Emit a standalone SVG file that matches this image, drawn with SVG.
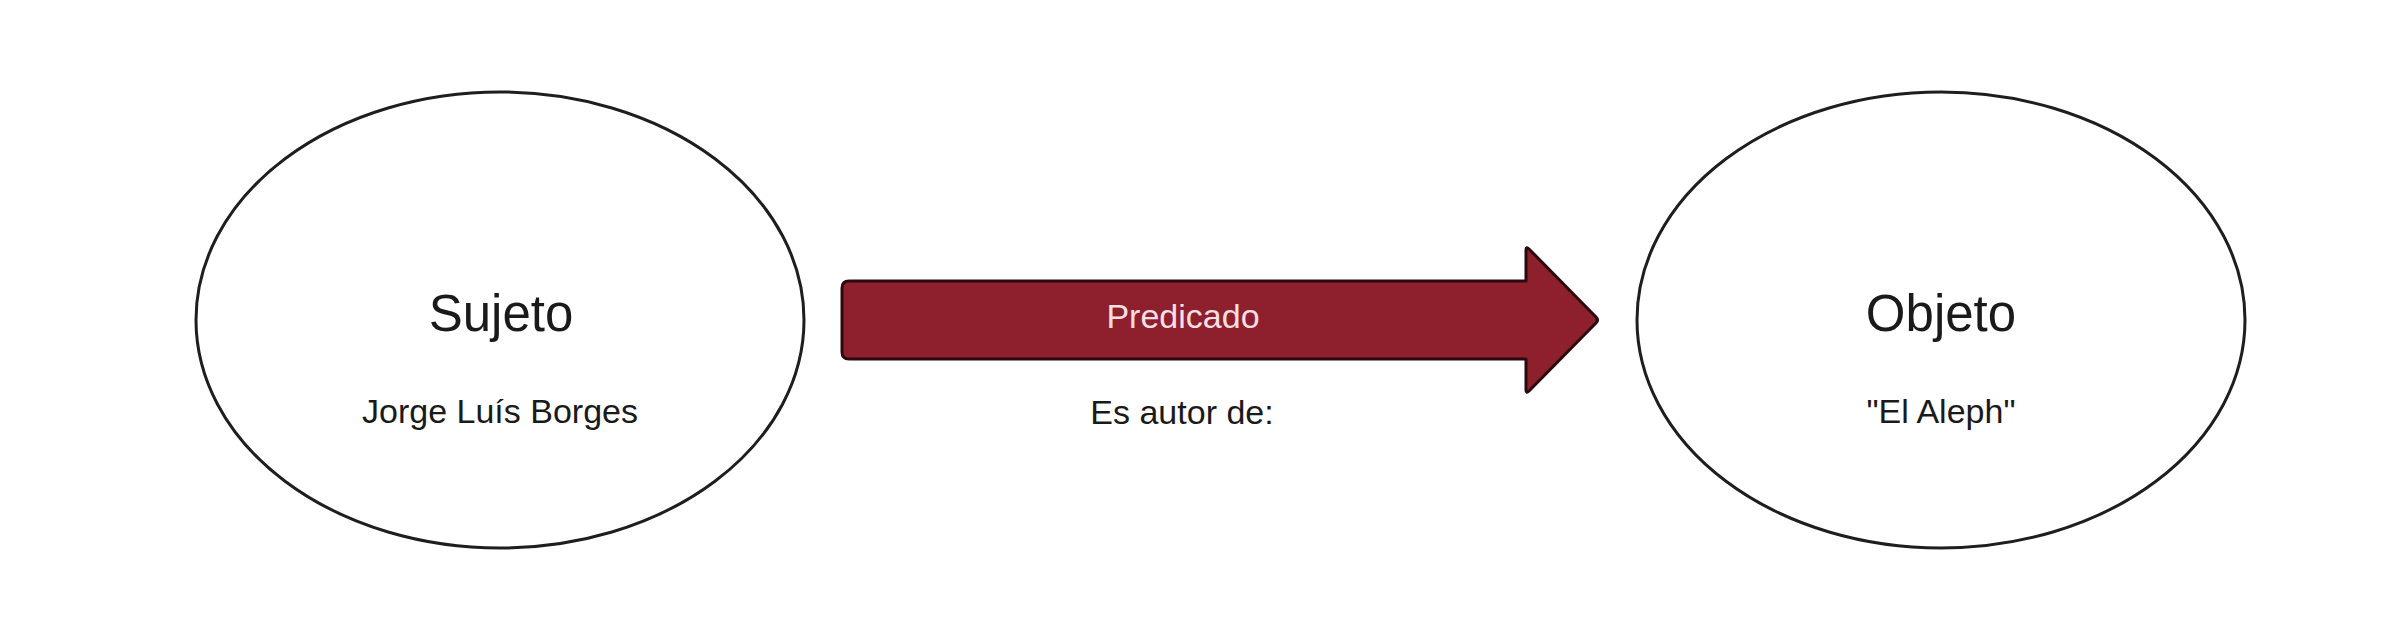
<svg xmlns="http://www.w3.org/2000/svg" width="2398" height="644" viewBox="0 0 2398 644">
<style>
.node{fill:#ffffff;stroke:#1e1e1e;stroke-width:3}
.t{font-family:"Liberation Sans",Arial,sans-serif;fill:#1a1a1a;text-anchor:middle}
.big{font-size:51px}
.small{font-size:34px}
.arrow{fill:#8e1f2d;stroke:#2a0a0e;stroke-width:3;stroke-linejoin:round}
.lbl{font-family:"Liberation Sans",Arial,sans-serif;font-size:34px;fill:#f7dfe3;text-anchor:middle}
</style>
<rect width="2398" height="644" fill="#ffffff"/>
<g id="sujeto">
<ellipse class="node" cx="500" cy="320" rx="304" ry="228"/>
<text class="t big" x="501" y="331">Sujeto</text>
<text class="t small" x="500" y="423">Jorge Luís Borges</text>
</g>
<g id="objeto">
<ellipse class="node" cx="1941" cy="320" rx="304" ry="228"/>
<text class="t big" x="1941" y="331">Objeto</text>
<text class="t small" x="1941" y="423">"El Aleph"</text>
</g>
<g id="connectors">
<g id="predicado">
<path class="arrow" d="M849,281 L1526,281 L1526,250 Q1526,246 1529,249 L1596,317 Q1599,320 1596,323 L1529,391 Q1526,394 1526,390 L1526,359 L849,359 Q842,359 842,352 L842,288 Q842,281 849,281 Z"/>
<text class="lbl" x="1183" y="328">Predicado</text>
<text class="t small" x="1182" y="424">Es autor de:</text>
</g>
</g>
</svg>
